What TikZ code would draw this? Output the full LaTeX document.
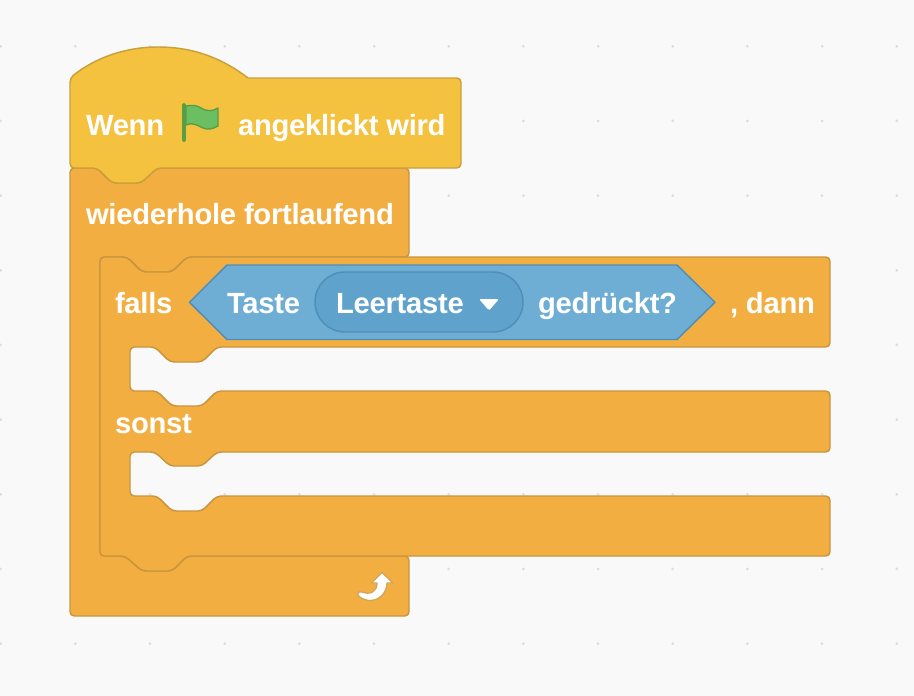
\documentclass[tikz,border=0pt]{standalone}
\usepackage{fontspec}
\setmainfont{Liberation Sans}[BoldFont={Liberation Sans Bold},LetterSpace=-0.9]
\definecolor{bgc}{HTML}{F9F9F9}
\definecolor{dotc}{HTML}{DDDDDD}
\definecolor{hatfill}{HTML}{F5C23F}
\definecolor{hatline}{HTML}{C9A03C}
\definecolor{ctlfill}{HTML}{F3AE42}
\definecolor{ctlline}{HTML}{C8963E}
\definecolor{sensefill}{HTML}{6EAED4}
\definecolor{senseline}{HTML}{4E8FB9}
\definecolor{menufill}{HTML}{5FA2CC}
\definecolor{flagfill}{HTML}{6CBE63}
\definecolor{flagline}{HTML}{589E45}
\tikzset{
  block/.style={line width=1.1pt,line join=round,rounded corners=3.2pt},
  ctlblock/.style={block,fill=ctlfill,draw=ctlline},
  lbl/.style={anchor=base west,inner sep=0pt,outer sep=0pt,text=white,font=\fontsize{21.9pt}{26pt}\selectfont\bfseries},
}
\begin{document}
\begin{tikzpicture}[x=0.75pt,y=-0.75pt]
\useasboundingbox (0,0) rectangle (914,696);
\fill[bgc] (0,0) rectangle (914,696);
% canvas dots
\foreach \i in {0,...,12}{\foreach \j in {0,...,8}{
  \fill[dotc] ({0.7+74.67*\i},{46.3+74.67*\j}) circle (1.5);
}}
% forever block
\draw[ctlblock] (70,168) -- (97,168) -- (112,183) -- (141,183) -- (157,168)
  -- (409,168) -- (409,257) -- (187,257) -- (172,272) -- (142,272) -- (127,257)
  -- (100,257) -- (100,556) -- (125,556) -- (142,571) -- (172,571) -- (187,556)
  -- (409,556) -- (409,616) -- (70,616) -- cycle;
% hat block
\draw[block,fill=hatfill,draw=hatline] (70,168) -- (70,78) [sharp corners]
  .. controls (95,58) and (125,47) .. (158,47)
  .. controls (193,47) and (222,58) .. (248,78) [rounded corners=3.2pt]
  -- (461,78) -- (461,168) -- (157,168) -- (141,183) -- (112,183) -- (97,168) -- cycle;
% if-else block
\draw[ctlblock] (100,257) -- (127,257) -- (142,272) -- (172,272) -- (187,257)
  -- (830,257) -- (830,347) -- (217,347) -- (202,362) -- (170,362) -- (155,347)
  -- (130,347) -- (130,391) -- (157,391) -- (172,406) -- (202,406) -- (217,391)
  -- (830,391) -- (830,452) -- (217,452) -- (202,466) -- (170,466) -- (155,452)
  -- (130,452) -- (130,496) -- (157,496) -- (172,511) -- (202,511) -- (217,496)
  -- (830,496) -- (830,556) -- (187,556) -- (172,571) -- (142,571) -- (125,556)
  -- (100,556) -- cycle;
% sensing boolean
\draw[line width=1.1pt,line join=round,fill=sensefill,draw=senseline]
  (189.5,302.3) -- (227,265) -- (677,265) -- (715,302.3) -- (677,339.5) -- (227,339.5) -- cycle;
\draw[line width=1.1pt,fill=menufill,draw=senseline,rounded corners=22.4pt]
  (315,272) rectangle (523,332);
\fill[white,rounded corners=1.5pt] (479,299) -- (499,299) -- (489,310.5) -- cycle;
% flag
\draw[line width=2.8pt,line cap=round,draw=flagline] (184,105) -- (184,140);
\draw[line width=1pt,line join=round,fill=flagfill,draw=flagline] (186,106)
  .. controls (192,105) and (197,105) .. (201,108)
  .. controls (206,111) and (212,112) .. (218,108)
  -- (218,126)
  .. controls (213,129) and (208,130) .. (203,128)
  .. controls (197,125) and (192,122) .. (186,125) -- cycle;
% loop arrow
\draw[line width=1pt,line join=round,fill=white,draw=ctlline!85!white]
  (382,572.5) -- (393,583) -- (387,583)
  .. controls (387,593) and (379,601) .. (369,600.5)
  .. controls (364,600) and (358,597) .. (357.5,594)
  .. controls (358,592) and (360,591) .. (362,592)
  .. controls (370,595) and (377,592) .. (377,583)
  -- (371.5,583) -- cycle;
% labels
\node[lbl] (wenn) at (86,135) {Wenn};
\node[lbl] (klick) at (238,135) {angeklickt wird};
\node[lbl] (wdh) at (86,224) {wiederhole fortlaufend};
\node[lbl] (falls) at (115,313) {falls};
\node[lbl] (taste) at (227,313) {Taste};
\node[lbl] (leer) at (336,313) {Leertaste};
\node[lbl] (gedr) at (538,313) {gedrückt?};
\node[lbl] (dann) at (730,313) {, dann};
\node[lbl] (sonst) at (115,433) {sonst};
\end{tikzpicture}
\end{document}
